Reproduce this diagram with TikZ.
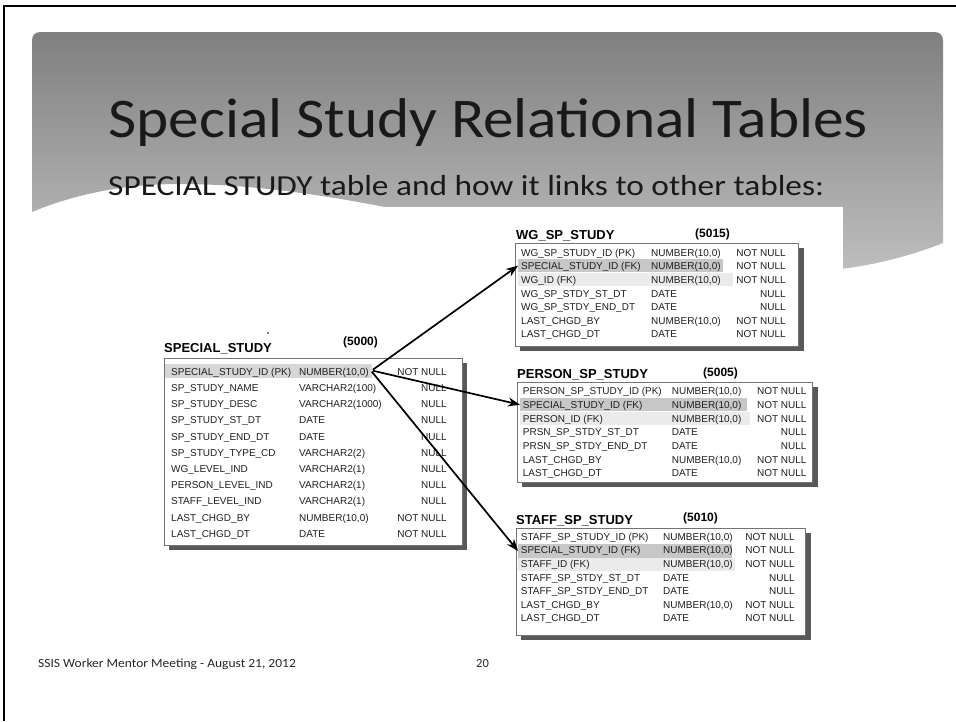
\documentclass[tikz,border=0pt]{standalone}
\usepackage{fontspec}
\setmainfont{Carlito}
\newfontfamily\tblfont{Liberation Sans}
\usetikzlibrary{arrows.meta,positioning}

\begin{document}
\begin{tikzpicture}[x=1pt, y=-1pt,
    tbox/.style={draw=black!55, fill=white, line width=0.7pt},
    tshadow/.style={fill=black!65},
    tname/.style={font=\tblfont\bfseries\fontsize{13}{13}\selectfont, anchor=base west, inner sep=0pt},
    tnum/.style={font=\tblfont\bfseries\fontsize{12}{12}\selectfont, anchor=base west, inner sep=0pt},
    cell/.style={font=\tblfont\fontsize{10}{10}\selectfont, text=black!88, inner sep=0pt},
    band/.style={fill=black!22, inner sep=0pt, anchor=north west},
    lightband/.style={fill=black!8, inner sep=0pt, anchor=north west},
    link/.style={-{Stealth[length=12pt,width=9pt]}, line width=1.7pt}
]
\useasboundingbox (0,0) rectangle (956,721);

% slide frame and title banner
\draw[line width=2.5pt] (4,721) -- (4,6) -- (956,6);
\shade[top color=black!50, bottom color=black!24]
    (32,212) -- (32,40) arc[start angle=180, end angle=270, radius=8]
    -- (935,32) arc[start angle=270, end angle=360, radius=8]
    -- (943,243) .. controls (910,256) and (875,265) .. (840,269)
    .. controls (700,285) and (520,235) .. (400,210)
    .. controls (340,198) and (260,184) .. (180,184)
    .. controls (130,184) and (80,192) .. (32,212) -- cycle;
\fill[white] (150,207) rectangle (843,650);

\node[anchor=base west, inner sep=0pt, font=\fontsize{56}{56}\selectfont, text=black!90] (title) at (108,137) {\scalebox{1.095}[1]{Special Study Relational Tables}};
\node[anchor=base west, inner sep=0pt, font=\fontsize{29}{29}\selectfont, text=black!90] (subtitle) at (108,195) {\scalebox{1.15}[1]{SPECIAL STUDY table and how it links to other tables:}};

% SPECIAL_STUDY
\fill (268,333) circle (0.8);
\node[tname] (ss-name) at (164,352) {SPECIAL\_STUDY};
\node[tnum] (ss-num) at (343,345) {(5000)};
\fill[tshadow] (169,363) rectangle (467,550);
\draw[tbox] (164,358) rectangle (462,545);
\node[lightband, fill=black!16, minimum width=207pt, minimum height=14pt] (ss-pk) at (165,364) {};
\foreach \cname/\ctype/\cnull [count=\i] in {
    SPECIAL\_STUDY\_ID (PK)/{NUMBER(10,0)}/NOT NULL,
    SP\_STUDY\_NAME/VARCHAR2(100)/NULL,
    SP\_STUDY\_DESC/VARCHAR2(1000)/NULL,
    SP\_STUDY\_ST\_DT/DATE/NULL,
    SP\_STUDY\_END\_DT/DATE/NULL,
    SP\_STUDY\_TYPE\_CD/VARCHAR2(2)/NULL,
    WG\_LEVEL\_IND/VARCHAR2(1)/NULL,
    PERSON\_LEVEL\_IND/VARCHAR2(1)/NULL,
    STAFF\_LEVEL\_IND/VARCHAR2(1)/NULL,
    LAST\_CHGD\_BY/{NUMBER(10,0)}/NOT NULL,
    LAST\_CHGD\_DT/DATE/NOT NULL} {
  \node[cell, anchor=base west] (ss-n\i) at (171, 359.1+16.2*\i) {\cname};
  \node[cell, anchor=base west] (ss-t\i) at (299, 359.1+16.2*\i) {\ctype};
  \node[cell, anchor=base east] (ss-c\i) at (447, 359.1+16.2*\i) {\cnull};
}

% WG_SP_STUDY
\node[tname] (wg-name) at (516,239.5) {WG\_SP\_STUDY};
\node[tnum] (wg-num) at (695,237.5) {(5015)};
\fill[tshadow] (520,248) rectangle (804,351);
\draw[tbox] (515,243) rectangle (798,346);
\node[band, minimum width=205pt, minimum height=13pt] (wg-fk) at (518,259) {};
\node[lightband, minimum width=215pt, minimum height=13pt] (wg-fk2) at (518,273) {};
\foreach \cname/\ctype/\cnull [count=\i] in {
    WG\_SP\_STUDY\_ID (PK)/{NUMBER(10,0)}/NOT NULL,
    SPECIAL\_STUDY\_ID (FK)/{NUMBER(10,0)}/NOT NULL,
    WG\_ID (FK)/{NUMBER(10,0)}/NOT NULL,
    WG\_SP\_STDY\_ST\_DT/DATE/NULL,
    WG\_SP\_STDY\_END\_DT/DATE/NULL,
    LAST\_CHGD\_BY/{NUMBER(10,0)}/NOT NULL,
    LAST\_CHGD\_DT/DATE/NOT NULL} {
  \node[cell, anchor=base west] (wg-n\i) at (521, 242.7+13.6*\i) {\cname};
  \node[cell, anchor=base west] (wg-t\i) at (651, 242.7+13.6*\i) {\ctype};
  \node[cell, anchor=base east] (wg-c\i) at (786, 242.7+13.6*\i) {\cnull};
}

% PERSON_SP_STUDY
\node[tname] (ps-name) at (517,378.5) {PERSON\_SP\_STUDY};
\node[tnum] (ps-num) at (703,376.5) {(5005)};
\fill[tshadow] (522,387) rectangle (818,487);
\draw[tbox] (517,382) rectangle (812,482);
\node[band, minimum width=227pt, minimum height=13pt] (ps-fk) at (520,398) {};
\node[lightband, minimum width=230pt, minimum height=13pt] (ps-fk2) at (520,412) {};
\foreach \cname/\ctype/\cnull [count=\i] in {
    PERSON\_SP\_STUDY\_ID (PK)/{NUMBER(10,0)}/NOT NULL,
    SPECIAL\_STUDY\_ID (FK)/{NUMBER(10,0)}/NOT NULL,
    PERSON\_ID (FK)/{NUMBER(10,0)}/NOT NULL,
    PRSN\_SP\_STDY\_ST\_DT/DATE/NULL,
    PRSN\_SP\_STDY\_END\_DT/DATE/NULL,
    LAST\_CHGD\_BY/{NUMBER(10,0)}/NOT NULL,
    LAST\_CHGD\_DT/DATE/NOT NULL} {
  \node[cell, anchor=base west] (ps-n\i) at (522.7, 380.9+13.7*\i) {\cname};
  \node[cell, anchor=base west] (ps-t\i) at (671.7, 380.9+13.7*\i) {\ctype};
  \node[cell, anchor=base east] (ps-c\i) at (806.7, 380.9+13.7*\i) {\cnull};
}

% STAFF_SP_STUDY
\node[tname] (sf-name) at (516,524.5) {STAFF\_SP\_STUDY};
\node[tnum] (sf-num) at (683,521.5) {(5010)};
\fill[tshadow] (521,533) rectangle (811,640);
\draw[tbox] (516,528) rectangle (805,635);
\node[band, minimum width=214pt, minimum height=13.5pt] (sf-fk) at (518,544) {};
\node[lightband, minimum width=217pt, minimum height=13pt] (sf-fk2) at (518,558) {};
\foreach \cname/\ctype/\cnull [count=\i] in {
    STAFF\_SP\_STUDY\_ID (PK)/{NUMBER(10,0)}/NOT NULL,
    SPECIAL\_STUDY\_ID (FK)/{NUMBER(10,0)}/NOT NULL,
    STAFF\_ID (FK)/{NUMBER(10,0)}/NOT NULL,
    STAFF\_SP\_STDY\_ST\_DT/DATE/NULL,
    STAFF\_SP\_STDY\_END\_DT/DATE/NULL,
    LAST\_CHGD\_BY/{NUMBER(10,0)}/NOT NULL,
    LAST\_CHGD\_DT/DATE/NOT NULL} {
  \node[cell, anchor=base west] (sf-n\i) at (520.7, 526.7+13.6*\i) {\cname};
  \node[cell, anchor=base west] (sf-t\i) at (663, 526.7+13.6*\i) {\ctype};
  \node[cell, anchor=base east] (sf-c\i) at (795, 526.7+13.6*\i) {\cnull};
}

% links from the primary key
\draw[link] ([xshift=4pt, yshift=3pt]ss-t1.east) -- (wg-fk.west);
\draw[link] ([xshift=4pt, yshift=2pt]ss-t1.east) -- (ps-fk.west);
\draw[link] ([xshift=3pt, yshift=1pt]ss-t1.east) -- (sf-fk.west);

% footer
\node[anchor=base west, inner sep=0pt, font=\fontsize{12.5}{13}\selectfont, text=black!85] (footer) at (38,667) {\scalebox{1.08}[1]{SSIS Worker Mentor Meeting - August 21, 2012}};
\node[anchor=base west, inner sep=0pt, font=\fontsize{12.5}{13}\selectfont, text=black!85] (page) at (476,667) {20};
\end{tikzpicture}
\end{document}
